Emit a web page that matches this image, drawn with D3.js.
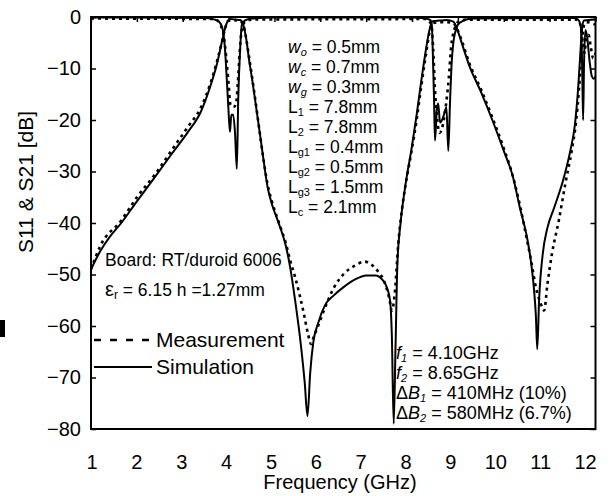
<!DOCTYPE html>
<html>
<head>
<meta charset="utf-8">
<script src="https://cdn.jsdelivr.net/npm/d3@7"></script>
<style>
  body { margin: 0; background: #fff; }
  svg text { font-family: "Liberation Sans", Arial, sans-serif; fill: #000; }
</style>
</head>
<body>
<div id="chart"></div>
<script>
const width = 616;
const height = 496;

// axes
const freqTicks = [1, 2, 3, 4, 5, 6, 7, 8, 9, 10, 11, 12];
const dbTicks = [0, -10, -20, -30, -40, -50, -60, -70, -80];

// S21 simulation
const s21SimF = [1.0, 1.2, 1.4, 1.66, 2.0, 2.4, 2.75, 3.1, 3.4, 3.6, 3.75, 3.85, 3.93, 3.98, 4.05, 4.15, 4.25, 4.32, 4.38, 4.45, 4.52, 4.6, 4.68, 4.75, 4.85, 4.95, 5.05, 5.15, 5.25, 5.35, 5.45, 5.58, 5.66, 5.72, 5.78, 5.85, 5.95, 6.1, 6.3, 6.5, 6.75, 7.0, 7.2, 7.35, 7.45, 7.52, 7.56, 7.6, 7.64, 7.68, 7.75, 7.85, 8.0, 8.1, 8.2, 8.3, 8.38, 8.45, 8.6, 8.75, 8.9, 8.98, 9.1, 9.25, 9.5, 9.75, 10.0, 10.2, 10.35, 10.5, 10.6, 10.66, 10.7, 10.73, 10.77, 10.85, 10.95, 11.1, 11.3, 11.45, 11.55, 11.62, 11.67, 11.71, 11.75, 12.0];
const s21SimDb = [-49, -45.5, -42.8, -40, -35.8, -31, -26.7, -22.5, -18.3, -13.5, -9, -5, -2, -0.8, -0.4, -0.5, -0.6, -1.5, -4, -8.5, -12.5, -17.5, -22.5, -27, -33, -36.5, -39, -41.5, -44.5, -49, -55, -64, -71, -77.5, -69, -63, -59.5, -56, -54, -52.5, -51, -50.2, -50.2, -51, -52.5, -55, -62, -79, -64, -48, -40, -33, -25, -19, -12.5, -6.5, -2.5, -0.8, -0.7, -0.6, -0.9, -2.3, -5.5, -9.5, -14.5, -20, -26, -31, -37, -42.5, -48, -53, -58, -64.5, -55, -46, -41, -37, -31.5, -26, -21, -14, -7, -2, -0.7, -0.5];

// S21 measurement
const s21MeasF = [1.0, 1.2, 1.66, 2.0, 2.4, 2.75, 3.1, 3.4, 3.6, 3.75, 3.85, 3.93, 3.98, 4.1, 4.25, 4.32, 4.38, 4.45, 4.55, 4.65, 4.75, 4.85, 4.95, 5.1, 5.25, 5.35, 5.45, 5.55, 5.65, 5.73, 5.8, 5.86, 5.95, 6.1, 6.3, 6.5, 6.75, 6.97, 7.1, 7.25, 7.4, 7.5, 7.56, 7.62, 7.7, 7.8, 7.9, 8.0, 8.1, 8.2, 8.3, 8.38, 8.45, 8.6, 8.75, 8.9, 8.98, 9.1, 9.25, 9.5, 9.75, 10.0, 10.2, 10.35, 10.5, 10.6, 10.7, 10.8, 10.88, 10.95, 11.05, 11.2, 11.35, 11.48, 11.58, 11.64, 11.7, 11.75, 11.8, 12.0];
const s21MeasDb = [-49, -44.5, -39.5, -35, -30.5, -26, -21.5, -17.5, -13, -8.5, -5, -2, -0.8, -0.6, -0.8, -1.5, -4, -8, -14, -20.5, -27, -32.5, -36, -40, -44, -47.5, -50.5, -54, -58, -61.5, -63.5, -62, -60, -56.5, -52.5, -50, -48.3, -47.5, -48, -49.3, -51.5, -54.5, -57, -54, -44, -36, -30.5, -25.5, -20, -13.5, -7.5, -3, -1.2, -1, -1, -1.2, -2.3, -5, -9, -14, -19.5, -25.5, -31, -36.5, -43, -47.5, -52.5, -55.5, -57, -52, -46, -39.5, -32, -26, -20, -14, -6, -1.5, -1, -1.5];

// S11 simulation
const s11SimF = [1.0, 3.5, 3.7, 3.8, 3.86, 3.92, 3.96, 4.0, 4.03, 4.06, 4.1, 4.14, 4.18, 4.21, 4.25, 4.29, 4.35, 4.5, 5.0, 8.0, 8.3, 8.4, 8.43, 8.45, 8.48, 8.5, 8.54, 8.57, 8.61, 8.68, 8.75, 8.79, 8.83, 8.86, 8.9, 8.94, 9.0, 9.1, 9.3, 11.5, 11.62, 11.68, 11.71, 11.73, 11.75, 11.78, 11.82, 11.87, 11.92, 11.96, 12.0];
const s11SimDb = [-0.1, -0.2, -0.5, -1.0, -2, -6, -12, -18.5, -22.3, -19, -19, -22.5, -29.5, -16, -6.5, -1.5, -0.7, -0.3, -0.1, -0.1, -0.3, -0.6, -1.5, -6, -16, -24, -18, -16.8, -20.5, -19.4, -17.5, -26, -16, -9.5, -5, -3, -1.5, -0.8, -0.3, -0.2, -0.5, -2, -10, -20, -9, -2.5, -4, -8.5, -11.5, -12, -11.5];

// S11 measurement
const s11MeasF = [1.0, 3.7, 3.82, 3.9, 3.95, 4.0, 4.04, 4.1, 4.16, 4.2, 4.24, 4.28, 4.35, 4.5, 8.3, 8.42, 8.46, 8.5, 8.55, 8.6, 8.67, 8.74, 8.8, 8.85, 8.92, 9.0, 9.2, 11.6, 11.67, 11.72, 11.76, 11.8, 11.85, 11.9, 11.95, 12.0];
const s11MeasDb = [-0.3, -0.4, -1.5, -4, -8, -13, -17, -17.5, -17, -13, -7, -3, -1, -0.5, -0.4, -1.5, -6, -14, -20, -22.5, -21, -17, -12, -6, -2.5, -1, -0.5, -0.5, -1.5, -5, -7, -4, -3.5, -6, -8, -7];

const legendLabels = ["Measurement", "Simulation"];

const svg = d3.select("#chart").append("svg")
  .attr("width", width)
  .attr("height", height);

const x = d3.scaleLinear().domain([1, 12]).range([91, 595.5]);
const xLabel = d3.scaleLinear().domain([1, 12]).range([91.5, 585]);
const y = d3.scaleLinear().domain([-80, 0]).range([429, 17]);

svg.append("clipPath").attr("id", "plotClip")
  .append("rect")
  .attr("x", x(1)).attr("y", y(0))
  .attr("width", x(12) - x(1)).attr("height", y(-80) - y(0));

// axes: ticks inside, labels on left and bottom only
svg.append("g")
  .attr("transform", "translate(" + x(1) + ",0)")
  .call(d3.axisLeft(y).tickValues(dbTicks).tickSize(-5).tickPadding(10))
  .call(g => g.select(".domain").remove())
  .call(g => g.selectAll("line").attr("stroke-width", 1.5))
  .call(g => g.selectAll("text").attr("font-size", 20));

svg.append("g")
  .attr("transform", "translate(" + x(12) + ",0)")
  .call(d3.axisRight(y).tickValues(dbTicks).tickSize(-5).tickFormat(""))
  .call(g => g.select(".domain").remove())
  .call(g => g.selectAll("line").attr("stroke-width", 1.5));

svg.append("g")
  .attr("transform", "translate(0," + y(0) + ")")
  .call(d3.axisTop(x).tickValues(freqTicks).tickSize(-5).tickFormat(""))
  .call(g => g.select(".domain").remove())
  .call(g => g.selectAll("line").attr("stroke-width", 1.5));

svg.append("g")
  .attr("transform", "translate(0," + y(-80) + ")")
  .call(d3.axisBottom(xLabel).tickValues(freqTicks).tickSize(0).tickPadding(26))
  .call(g => g.select(".domain").remove())
  .call(g => g.selectAll("text").attr("font-size", 20));

svg.append("rect")
  .attr("x", x(1)).attr("y", y(0))
  .attr("width", x(12) - x(1)).attr("height", y(-80) - y(0))
  .attr("fill", "none").attr("stroke", "#000").attr("stroke-width", 2);

// axis titles
svg.append("text")
  .attr("x", 340).attr("y", 489)
  .attr("text-anchor", "middle").attr("font-size", 20)
  .text("Frequency (GHz)");

svg.append("text")
  .attr("transform", "translate(33,182) rotate(-90)")
  .attr("text-anchor", "middle").attr("font-size", 21)
  .text("S11 & S21 [dB]");

// curves
const line = d3.line()
  .x(d => x(d[0]))
  .y(d => y(d[1]))
  .curve(d3.curveMonotoneX);

const series = [
  { f: s21MeasF, v: s21MeasDb, dash: "3,4", w: 2.6 },
  { f: s11MeasF, v: s11MeasDb, dash: "3,4", w: 2.6 },
  { f: s21SimF, v: s21SimDb, dash: null, w: 2 },
  { f: s11SimF, v: s11SimDb, dash: null, w: 2 }
];

const plot = svg.append("g").attr("clip-path", "url(#plotClip)");
series.forEach(s => {
  plot.append("path")
    .datum(s.f.map((f, i) => [f, s.v[i]]))
    .attr("d", line)
    .attr("fill", "none")
    .attr("stroke", "#000")
    .attr("stroke-width", s.w)
    .attr("stroke-dasharray", s.dash);
});

// legend
const legend = svg.append("g");
legend.selectAll("line")
  .data(legendLabels)
  .enter()
  .append("line")
  .attr("x1", 94).attr("x2", 152)
  .attr("y1", (d, i) => 340 + i * 27)
  .attr("y2", (d, i) => 340 + i * 27)
  .attr("stroke", "#000")
  .attr("stroke-width", (d, i) => i === 0 ? 2.6 : 2)
  .attr("stroke-dasharray", (d, i) => i === 0 ? "7,9" : null);
legend.selectAll("text")
  .data(legendLabels)
  .enter()
  .append("text")
  .attr("x", 156)
  .attr("y", (d, i) => 347 + i * 27)
  .attr("font-size", 21)
  .text(d => d);

// parameter block
const params = [
  ["w", "o", " = 0.5mm", true],
  ["w", "c", " = 0.7mm", true],
  ["w", "g", " = 0.3mm", true],
  ["L", "1", " = 7.8mm", false],
  ["L", "2", " = 7.8mm", false],
  ["L", "g1", " = 0.4mm", false],
  ["L", "g2", " = 0.5mm", false],
  ["L", "g3", " = 1.5mm", false],
  ["L", "c", " = 2.1mm", false]
];
const pText = svg.selectAll(".param")
  .data(params)
  .enter()
  .append("text")
  .attr("class", "param")
  .attr("x", 288)
  .attr("y", (d, i) => 53 + i * 20)
  .attr("font-size", 17.5);
pText.append("tspan").attr("font-style", d => d[3] ? "italic" : null).text(d => d[0]);
pText.append("tspan").attr("font-size", 11).attr("dy", 3).attr("font-style", d => d[3] ? "italic" : null).text(d => d[1]);
pText.append("tspan").attr("dy", -3).text(d => d[2]);

// board info
svg.append("text").attr("x", 105).attr("y", 266).attr("font-size", 17.5)
  .text("Board: RT/duroid 6006");
const eps = svg.append("text").attr("x", 105).attr("y", 296).attr("font-size", 17.5);
eps.append("tspan").attr("font-size", 20).text("ε");
eps.append("tspan").attr("font-size", 12).attr("dy", 3).text("r");
eps.append("tspan").attr("dy", -3).text(" = 6.15 h =1.27mm");

// resonance info
const res = [
  ["", "f", "1", " = 4.10GHz"],
  ["", "f", "2", " = 8.65GHz"],
  ["Δ", "B", "1", " = 410MHz (10%)"],
  ["Δ", "B", "2", " = 580MHz (6.7%)"]
];
const rText = svg.selectAll(".res")
  .data(res)
  .enter()
  .append("text")
  .attr("class", "res")
  .attr("x", 396)
  .attr("y", (d, i) => 359 + i * 20)
  .attr("font-size", 18);
rText.append("tspan").text(d => d[0]);
rText.append("tspan").attr("font-style", "italic").text(d => d[1]);
rText.append("tspan").attr("font-style", "italic").attr("font-size", 11).attr("dy", 3).text(d => d[2]);
rText.append("tspan").attr("dy", -3).text(d => d[3]);

// stray mark at the left edge
svg.append("rect").attr("x", 0).attr("y", 320).attr("width", 5).attr("height", 17).attr("fill", "#000");
</script>
</body>
</html>
